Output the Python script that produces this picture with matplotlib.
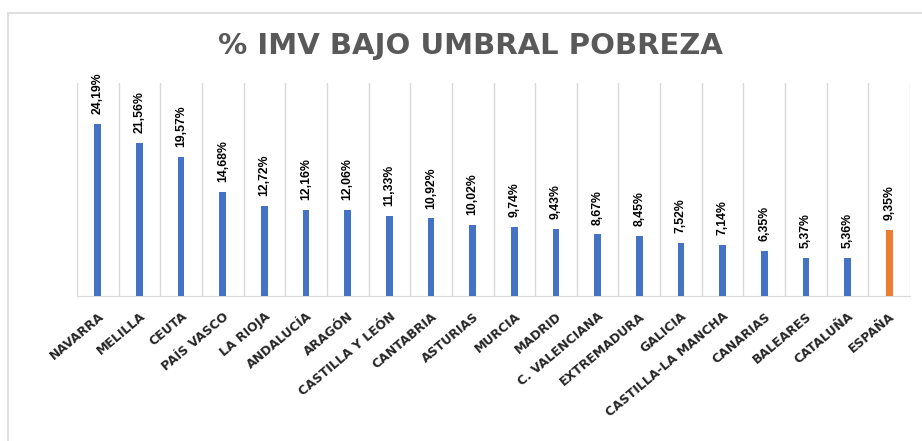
import matplotlib.pyplot as plt
from matplotlib.patches import Rectangle

regiones = ["NAVARRA", "MELILLA", "CEUTA", "PAÍS VASCO", "LA RIOJA", "ANDALUCÍA",
            "ARAGÓN", "CASTILLA Y LEÓN", "CANTABRIA", "ASTURIAS", "MURCIA", "MADRID",
            "C. VALENCIANA", "EXTREMADURA", "GALICIA", "CASTILLA-LA MANCHA",
            "CANARIAS", "BALEARES", "CATALUÑA", "ESPAÑA"]
valores = [24.19, 21.56, 19.57, 14.68, 12.72, 12.16, 12.06, 11.33, 10.92, 10.02,
           9.74, 9.43, 8.67, 8.45, 7.52, 7.14, 6.35, 5.37, 5.36, 9.35]

azul = "#4472C4"
naranja = "#ED7D31"
colores = [naranja if r == "ESPAÑA" else azul for r in regiones]

fig = plt.figure(figsize=(9.22, 4.41), dpi=100)
# light frame of the chart area
fig.patches.append(Rectangle((8 / 922, -0.1), 2, (441 - 13) / 441 + 0.1,
                             transform=fig.transFigure, fill=False,
                             edgecolor="#D9D9D9", linewidth=1.2))

n = len(regiones)
ax = fig.add_axes([77 / 922, (441 - 296) / 441, (910 - 77) / 922, (296 - 83) / 441])
x = list(range(n))
ax.bar(x, valores, width=0.16, color=colores, zorder=3)
ax.set_xlim(-0.5, n - 0.5)
ax.set_ylim(0, 30)

for b in range(n + 1):
    ax.axvline(b - 0.5, color="#D9D9D9", linewidth=1, zorder=1)

for i, v in enumerate(valores):
    ax.text(i, v + 1.4, ("%.2f" % v).replace(".", ",") + "%", rotation=90,
            ha="center", va="bottom", fontsize=8.8, fontweight="bold",
            family="Liberation Sans", color="#000000")

ax.set_yticks([])
ax.set_xticks(x)
ax.set_xticklabels(regiones, rotation=40, ha="right", va="top",
                   rotation_mode="anchor", fontsize=9, fontweight="bold",
                   color="#262626")
ax.tick_params(axis="x", length=0, pad=10)
for s in ["top", "right", "left"]:
    ax.spines[s].set_visible(False)
ax.spines["bottom"].set_color("#D9D9D9")

fig.text(470 / 922, 1 - 46 / 441, "% IMV BAJO UMBRAL POBREZA", ha="center",
         va="center", fontsize=21, fontweight="bold", color="#595959")

fig.savefig("out.png", dpi=100)
